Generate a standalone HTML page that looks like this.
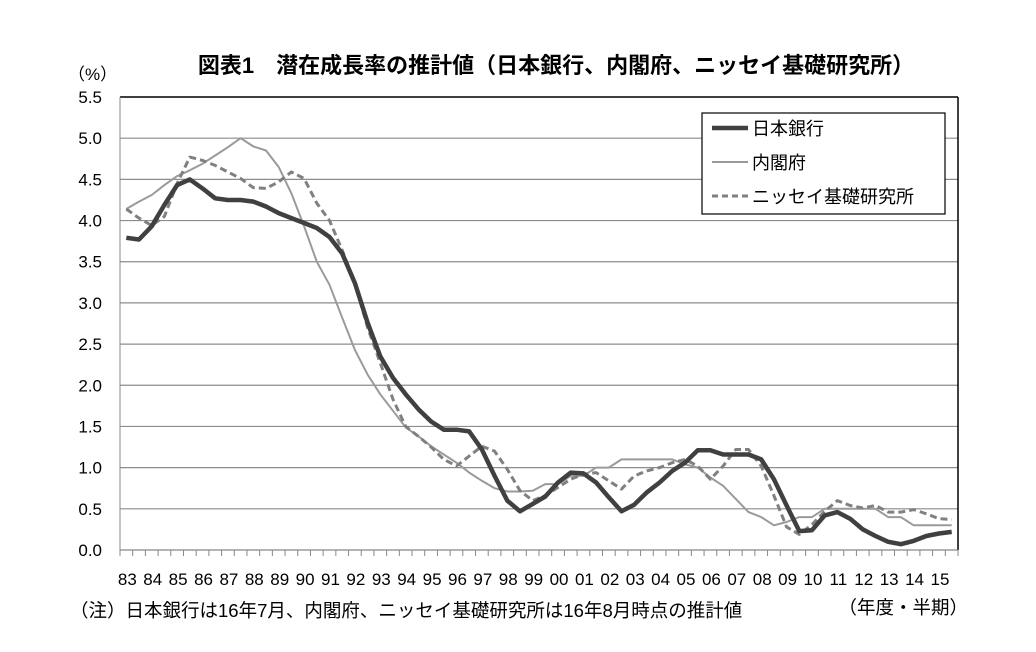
<!DOCTYPE html>
<html><head><meta charset="utf-8">
<style>
html,body{margin:0;padding:0;background:#fff;}
body{width:1036px;height:647px;overflow:hidden;font-family:"Liberation Sans","Noto Sans CJK JP",sans-serif;}
</style></head>
<body>
<svg id="chart" width="1036" height="647" xmlns="http://www.w3.org/2000/svg" font-family="Liberation Sans, Noto Sans CJK JP, sans-serif">
<text x="556" y="73" text-anchor="middle" font-size="22" font-weight="bold" fill="#000">図表1　潜在成長率の推計値（日本銀行、内閣府、ニッセイ基礎研究所）</text>
<text x="68" y="80" font-size="17" fill="#000">（%）</text>
<g id="grid"></g>
<g id="axes"></g>
<g id="series"></g>
<g>
<rect x="702" y="113" width="243" height="101" fill="#fff" stroke="#000" stroke-width="1.2"/>
<g><line x1="712" y1="128" x2="748" y2="128" stroke="#404040" stroke-width="4.5"/><text x="752" y="135" font-size="18">日本銀行</text></g>
<g><line x1="712" y1="162" x2="748" y2="162" stroke="#999" stroke-width="2"/><text x="752" y="169" font-size="18">内閣府</text></g>
<g><line x1="712" y1="196" x2="748" y2="196" stroke="#808080" stroke-width="3" stroke-dasharray="6,4"/><text x="752" y="203" font-size="18">ニッセイ基礎研究所</text></g>
</g>
<text x="70" y="617" font-size="18.5" fill="#000">（注）日本銀行は16年7月、内閣府、ニッセイ基礎研究所は16年8月時点の推計値</text>
<text x="968" y="614" text-anchor="end" font-size="18.5" fill="#000">（年度・半期）</text>
</svg>
<script>
const yearLabels=["83","84","85","86","87","88","89","90","91","92","93","94","95","96","97","98","99","00","01","02","03","04","05","06","07","08","09","10","11","12","13","14","15"];
const yTicks=[0.0,0.5,1.0,1.5,2.0,2.5,3.0,3.5,4.0,4.5,5.0,5.5];
const boj=[3.79,3.77,3.93,4.19,4.43,4.5,4.39,4.27,4.25,4.25,4.23,4.17,4.09,4.03,3.97,3.91,3.8,3.6,3.24,2.76,2.35,2.09,1.89,1.71,1.56,1.46,1.46,1.44,1.22,0.9,0.6,0.47,0.56,0.65,0.82,0.94,0.93,0.82,0.64,0.47,0.55,0.7,0.82,0.96,1.06,1.21,1.21,1.16,1.16,1.16,1.1,0.86,0.54,0.23,0.24,0.42,0.46,0.38,0.25,0.17,0.1,0.07,0.11,0.17,0.2,0.22];
const cabinet=[4.14,4.23,4.31,4.43,4.54,4.61,4.69,4.79,4.89,5.0,4.9,4.85,4.65,4.33,3.93,3.5,3.22,2.82,2.43,2.13,1.89,1.69,1.49,1.38,1.26,1.16,1.06,0.94,0.84,0.75,0.71,0.71,0.72,0.8,0.8,0.9,0.9,1.0,1.0,1.1,1.1,1.1,1.1,1.1,1.04,1.0,0.88,0.78,0.62,0.46,0.4,0.3,0.34,0.4,0.4,0.5,0.5,0.5,0.5,0.5,0.4,0.4,0.3,0.3,0.3,0.3];
const nissay=[4.14,4.03,3.94,4.05,4.45,4.77,4.73,4.67,4.59,4.51,4.4,4.39,4.47,4.59,4.51,4.21,4.0,3.64,3.24,2.7,2.27,1.83,1.5,1.38,1.25,1.1,1.02,1.14,1.26,1.2,0.98,0.72,0.6,0.66,0.76,0.86,0.92,0.94,0.84,0.74,0.9,0.96,1.0,1.06,1.1,1.02,0.86,1.02,1.22,1.22,1.02,0.66,0.28,0.19,0.31,0.47,0.6,0.54,0.51,0.54,0.46,0.46,0.49,0.44,0.38,0.37];

const NS="http://www.w3.org/2000/svg";
const X0=120,X1=958,Y0=550,Y1=97,YMAX=5.5;
const nSlots=yearLabels.length*2;
const slotW=(X1-X0)/nSlots;
function xPos(i){return X0+(i+0.5)*slotW;}
function yPos(v){return Y0-(v/YMAX)*(Y0-Y1);}
function mk(tag,attrs,parent){const e=document.createElementNS(NS,tag);for(const k in attrs)e.setAttribute(k,attrs[k]);parent.appendChild(e);return e;}
const grid=document.getElementById('grid'),axes=document.getElementById('axes'),series=document.getElementById('series');
yTicks.forEach(v=>{
  const y=yPos(v);
  if(v>0){
    const l=mk('line',{x1:X0,x2:X1,y1:y,y2:y,stroke:v>=YMAX?'#000':'#8c8c8c','stroke-width':v>=YMAX?1.5:1.2},grid);
    
    
  }
  const t=mk('text',{x:102,y:y+6,'text-anchor':'end','font-size':17,fill:'#000'},axes);
  t.textContent=v.toFixed(1);
  
  
});
const la=mk('line',{x1:X0,x2:X0,y1:Y1,y2:Y0,stroke:'#888','stroke-width':1},axes);


const ra=mk('line',{x1:X1,x2:X1,y1:Y1,y2:Y0,stroke:'#000','stroke-width':1.5},axes);


const xa=mk('line',{x1:X0,x2:X1,y1:Y0,y2:Y0,stroke:'#888','stroke-width':1.2},axes);


for(let i=0;i<=nSlots;i++){
  const x=X0+i*slotW;
  const tk=mk('line',{x1:x,x2:x,y1:Y0,y2:Y0+6,stroke:'#888','stroke-width':1},axes);
  
  
}
yearLabels.forEach((lab,k)=>{
  const t=mk('text',{x:xPos(k*2)+1,y:585,'text-anchor':'middle','font-size':17,fill:'#000'},axes);
  t.textContent=lab;
  
  
});
function drawLine(data,name,stroke,width,dash){
  const pts=data.map((v,i)=>xPos(i).toFixed(1)+','+yPos(v).toFixed(1)).join(' ');
  const p=mk('polyline',{points:pts,fill:'none',stroke:stroke,'stroke-width':width,'stroke-linejoin':'round'},series);
  if(dash)p.setAttribute('stroke-dasharray',dash);
  
  
}
drawLine(cabinet,'line-cabinet-office','#9a9a9a',2,null);
drawLine(nissay,'line-nissay','#808080',3,'7,4');
drawLine(boj,'line-boj','#404040',4.5,null);
</script>
</body></html>
